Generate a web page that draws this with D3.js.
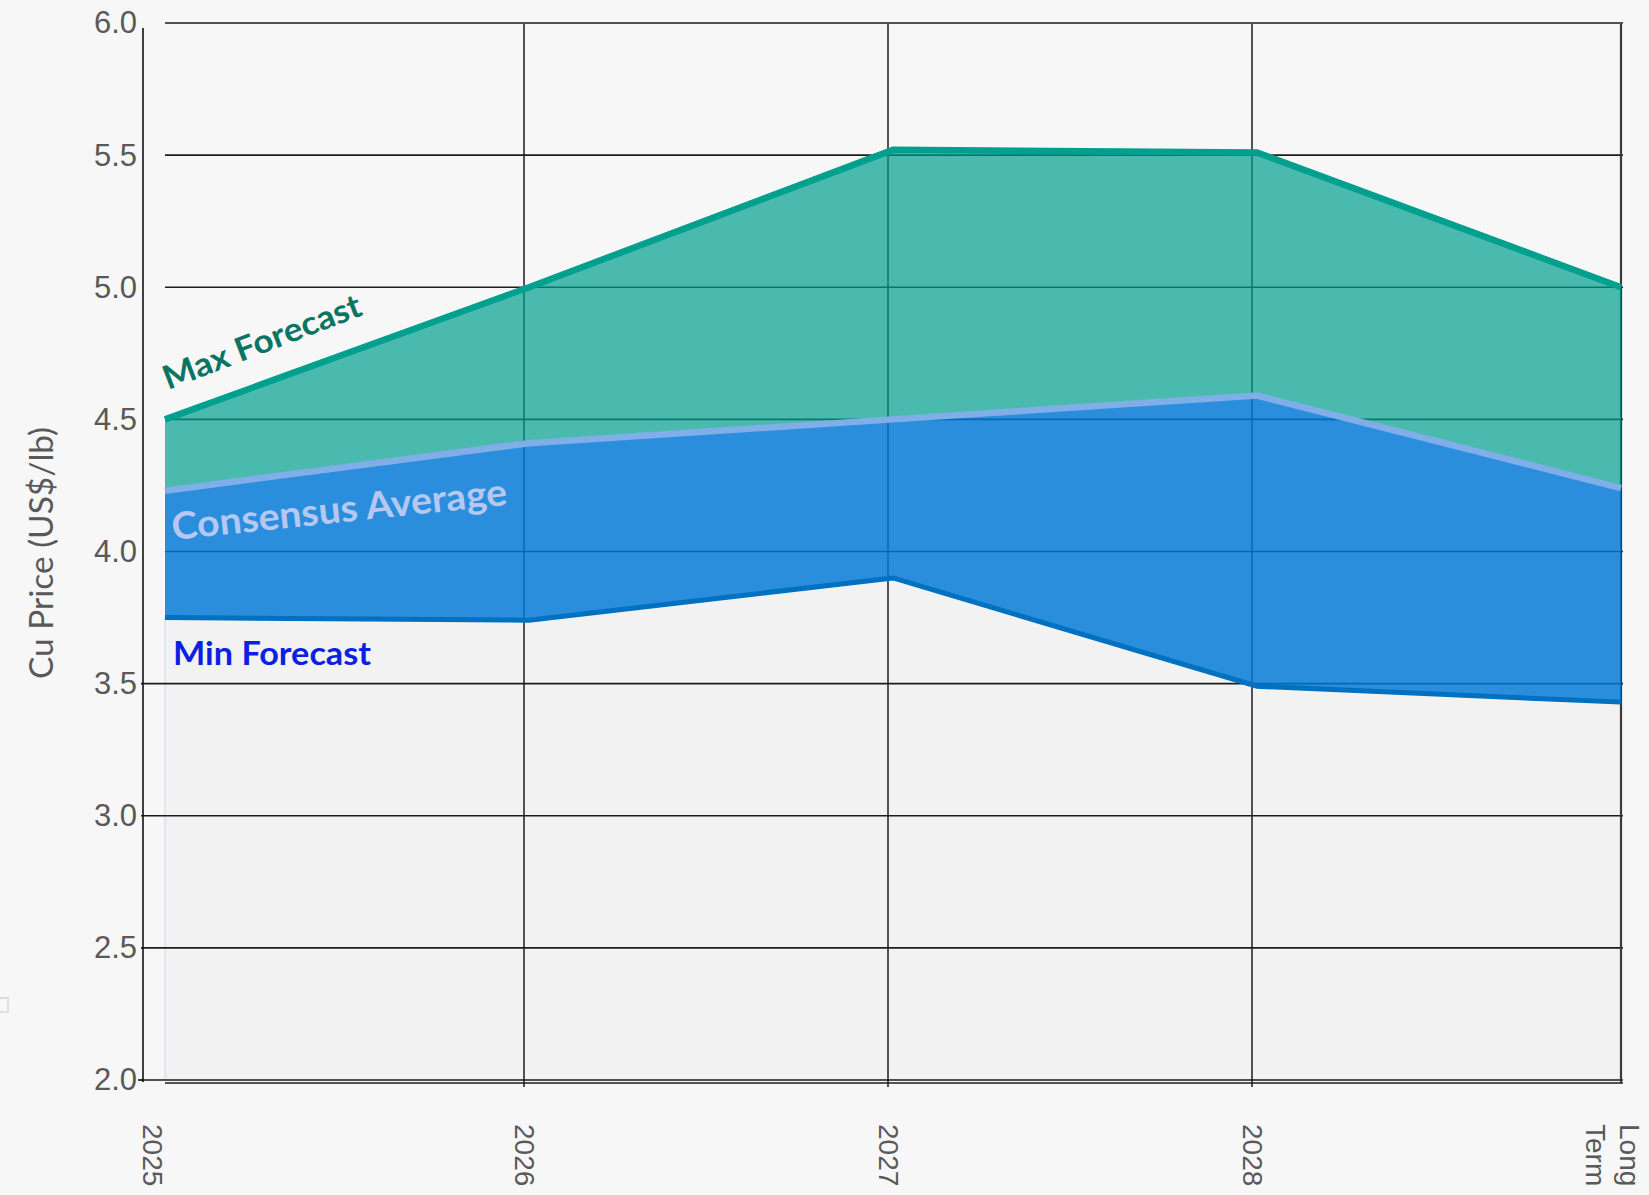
<!DOCTYPE html>
<html>
<head>
<meta charset="utf-8">
<script src="https://cdn.jsdelivr.net/npm/d3@7"></script>
<style>
  html, body { margin: 0; padding: 0; background: #f7f7f7; }
  svg { display: block; }
</style>
</head>
<body>
<svg id="chart" width="1649" height="1195"></svg>
<script>
// Copper price forecast range (US$/lb)
const categories = ["2025", "2026", "2027", "2028", "Long Term"];
const maxForecast = [4.50, 5.00, 5.52, 5.51, 5.00];
const consensusAvg = [4.23, 4.41, 4.50, 4.59, 4.24];
const minForecast = [3.75, 3.74, 3.90, 3.49, 3.43];
const yTicks = [2.0, 2.5, 3.0, 3.5, 4.0, 4.5, 5.0, 5.5, 6.0];
const yTitle = "Cu Price (US$/lb)";

const rows = categories.map((c, i) => ({
  cat: c, max: maxForecast[i], avg: consensusAvg[i], min: minForecast[i]
}));

const svg = d3.select("#chart");
const W = 1649, H = 1195;
const axisX = 143;

const x = d3.scalePoint().domain(categories).range([165, 1621]);
const y = d3.scaleLinear().domain([2, 6]).range([1080, 23]);

svg.append("rect").attr("width", W).attr("height", H).attr("fill", "#f7f7f7");

// small control box at the left edge
svg.append("rect").attr("x", -6).attr("y", 998).attr("width", 14).attr("height", 14)
  .attr("fill", "none").attr("stroke", "#dedede").attr("stroke-width", 2);

// plot background below the minimum forecast
svg.append("path").datum(rows)
  .attr("d", d3.area().x(d => x(d.cat)).y0(y(2)).y1(d => y(d.min)))
  .attr("fill", "#f2f2f2")
  .attr("stroke", "#cad8e8").attr("stroke-width", 1);

// horizontal grid
const xEnd = x(categories[categories.length - 1]);
svg.append("g").selectAll("line").data(yTicks).join("line")
  .attr("x1", d => d <= 3.5 ? axisX - 2 : x(categories[0]))
  .attr("x2", xEnd + 2)
  .attr("y1", d => y(d)).attr("y2", d => y(d))
  .attr("stroke", "#1c1c1c").attr("stroke-width", 1.6);
// second baseline rule just under 2.0
svg.append("line")
  .attr("x1", x(categories[0])).attr("x2", xEnd + 2)
  .attr("y1", y(2) + 3).attr("y2", y(2) + 3)
  .attr("stroke", "#1c1c1c").attr("stroke-width", 1.4);

// vertical grid at inner categories
svg.append("g").selectAll("line").data(categories.slice(1, -1)).join("line")
  .attr("x1", d => x(d) - 5).attr("x2", d => x(d) - 5)
  .attr("y1", 24).attr("y2", 1087)
  .attr("stroke", "#1c1c1c").attr("stroke-width", 1.5);
// right border at Long Term
svg.append("line")
  .attr("x1", xEnd).attr("x2", xEnd).attr("y1", 24).attr("y2", y(2) + 3)
  .attr("stroke", "#3a3a3a").attr("stroke-width", 2.2);

// band between max and consensus
svg.append("path").datum(rows)
  .attr("d", d3.area().x(d => x(d.cat)).y0(d => y(d.avg)).y1(d => y(d.max)))
  .attr("fill", "#00A08E").attr("fill-opacity", 0.7);
// band between consensus and min
svg.append("path").datum(rows)
  .attr("d", d3.area().x(d => x(d.cat)).y0(d => y(d.min)).y1(d => y(d.avg)))
  .attr("fill", "#0078D7").attr("fill-opacity", 0.83);

// series lines
const line = key => d3.line().x(d => x(d.cat)).y(d => y(d[key]));
svg.append("path").datum(rows).attr("d", line("min"))
  .attr("fill", "none").attr("stroke", "#0070C0").attr("stroke-width", 5);
svg.append("path").datum(rows).attr("d", line("avg"))
  .attr("fill", "none").attr("stroke", "#80AEE8").attr("stroke-width", 6.5);
svg.append("path").datum(rows).attr("d", line("max"))
  .attr("fill", "none").attr("stroke", "#00A08E").attr("stroke-width", 6.5);

// y axis
const yAxis = svg.append("g").attr("transform", `translate(${axisX},0)`)
  .call(d3.axisLeft(y).tickValues(yTicks).tickFormat(d3.format(".1f"))
    .tickSize(0).tickPadding(6));
yAxis.select(".domain").attr("stroke", "#111").attr("stroke-width", 1.6)
  .attr("d", `M0,${y(6) + 5}V${y(2) + 2}`);
yAxis.selectAll("text")
  .attr("font-family", "'Liberation Sans', Arial, sans-serif")
  .attr("font-size", 31).attr("fill", "#595959");
yAxis.append("line").attr("x1", -5).attr("x2", 0).attr("y1", y(2)).attr("y2", y(2))
  .attr("stroke", "#111").attr("stroke-width", 1.6);

// x labels, rotated
const xl = svg.append("g").selectAll("g").data(categories).join("g")
  .attr("transform", d => `translate(${x(d) - (d === categories[0] ? 13 : 5)},1124) rotate(90)`);
xl.append("text")
  .attr("font-family", "'Liberation Sans', Arial, sans-serif")
  .attr("font-size", 28).attr("fill", "#595959")
  .attr("dominant-baseline", "central")
  .each(function (d) {
    const t = d3.select(this);
    const parts = d.split(" ");
    if (parts.length === 1) { t.text(d); return; }
    parts.forEach((p, i) => {
      t.append("tspan").attr("x", 0).attr("y", -14 + i * 34).text(p);
    });
  });

// text with a fixed size, squeezed to a given run length
function fitted(txt, px, py, angle, size, width, weight, color) {
  return svg.append("text")
    .attr("transform", `translate(${px},${py}) rotate(${angle})`)
    .attr("font-family", "Lato, 'Open Sans', sans-serif").attr("font-weight", weight)
    .attr("font-size", size).attr("fill", color)
    .attr("textLength", width).attr("lengthAdjust", "spacingAndGlyphs")
    .text(txt);
}

// y axis title
fitted(yTitle, 53, 679, -90, 32, 252, 400, "#595959");

// series annotations
fitted("Max Forecast", 168, 390, -21, 33, 210, 700, "#0C7462");
fitted("Consensus Average", 173, 540, -6, 37.5, 337, 700, "#B6C8F2");
fitted("Min Forecast", 173, 665, 0, 33, 198, 700, "#0A22E0");
</script>
</body>
</html>
